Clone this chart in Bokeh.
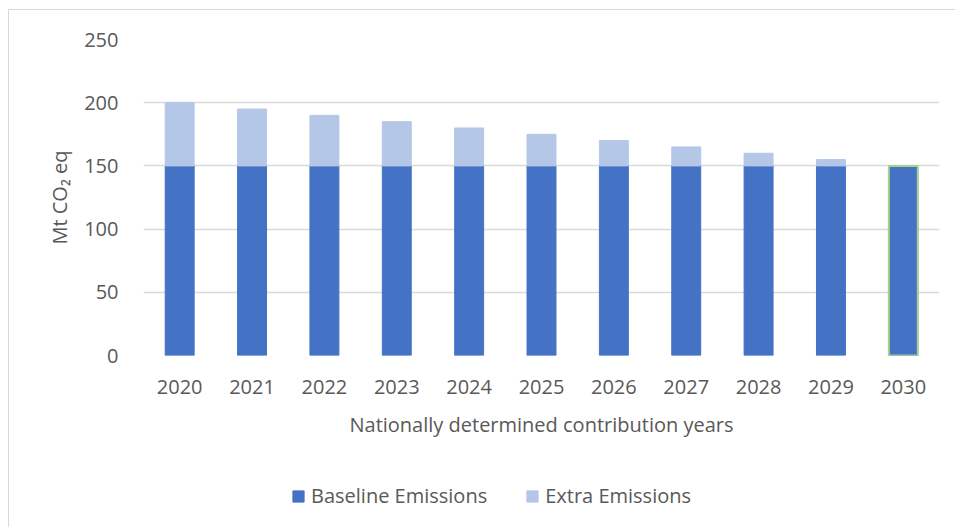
from bokeh.plotting import figure
from bokeh.layouts import column
from bokeh.models import Range1d, FixedTicker, Legend, LegendItem, ColumnDataSource
from bokeh.embed import file_html
from bokeh.resources import INLINE

years = ["2020", "2021", "2022", "2023", "2024", "2025", "2026", "2027", "2028", "2029", "2030"]
baseline = [150, 150, 150, 150, 150, 150, 150, 150, 150, 150, 150]
extra = [50, 45, 40, 35, 30, 25, 20, 15, 10, 5, 0]
y_ticks = [0, 50, 100, 150, 200, 250]
series_names = ["Baseline Emissions", "Extra Emissions"]

FONT = "Open Sans"
TXT = "#595959"
BASE_C = "#4472C4"
EXTRA_C = "#B4C7E7"
GRID_C = "#D9D9D9"

totals = [b + e for b, e in zip(baseline, extra)]
src = ColumnDataSource(dict(x=years, base=baseline, total=totals, zero=[0] * len(years)))

p = figure(x_range=years, y_range=Range1d(0, 250), width=946, height=435,
           output_backend="svg", toolbar_location=None,
           min_border_left=134, min_border_right=16, min_border_top=29, min_border_bottom=90)
p.outline_line_color = None
p.background_fill_color = "white"

p.vbar(x="x", bottom="zero", top="base", width=0.4, source=src,
       fill_color=BASE_C, line_color=BASE_C, line_width=1)
p.vbar(x="x", bottom="base", top="total", width=0.4, source=src,
       fill_color=EXTRA_C, line_color=EXTRA_C, line_width=1)
# highlighted final-year bar outline
p.vbar(x=[years[-1]], bottom=[0], top=[baseline[-1]], width=0.4,
       fill_color=None, line_color="#A9D18E", line_width=2)

p.xgrid.grid_line_color = None
p.ygrid.grid_line_color = GRID_C
p.ygrid.grid_line_width = 1.5
p.yaxis.ticker = FixedTicker(ticks=y_ticks)

for ax in (p.xaxis[0], p.yaxis[0]):
    ax.axis_line_color = None
    ax.major_tick_line_color = None
    ax.minor_tick_line_color = None
    ax.major_label_text_font = FONT
    ax.major_label_text_font_size = "20px"
    ax.major_label_text_color = TXT
    ax.axis_label_text_font = FONT
    ax.axis_label_text_font_size = "20px"
    ax.axis_label_text_color = TXT
    ax.axis_label_text_font_style = "normal"

p.xaxis.axis_label = "Nationally determined contribution years"
p.xaxis.major_label_standoff = 18
p.xaxis.axis_label_standoff = 14
p.yaxis.axis_label = "Mt CO\u2082 eq"
p.yaxis.major_label_standoff = 19
p.yaxis.axis_label_standoff = 8

# legend strip (its glyphs carry the same data, drawn outside the visible range)
lp = figure(width=946, height=82, x_range=years, y_range=Range1d(1000, 1001),
            output_backend="svg", toolbar_location=None,
            min_border=0, min_border_left=0, min_border_right=0, min_border_top=0, min_border_bottom=0)
lp.axis.visible = False
lp.grid.visible = False
lp.outline_line_color = None
d1 = lp.vbar(x="x", bottom="zero", top="base", width=0.4, source=src,
             fill_color=BASE_C, line_color=BASE_C)
d2 = lp.vbar(x="x", bottom="base", top="total", width=0.4, source=src,
             fill_color=EXTRA_C, line_color=EXTRA_C)
legend = Legend(items=[LegendItem(label=series_names[0], renderers=[d1]),
                       LegendItem(label=series_names[1], renderers=[d2])],
                orientation="horizontal", location=(148, 18),
                border_line_color=None, background_fill_alpha=0,
                glyph_width=14, glyph_height=14, label_standoff=6, spacing=38,
                label_text_font=FONT, label_text_font_size="20px", label_text_color=TXT,
                margin=0, padding=0)
lp.add_layout(legend, "center")

layout = column(p, lp, spacing=0)
layout.styles = {"margin-left": "8px", "margin-top": "9px",
                 "border-left": "1px solid #D9D9D9", "border-top": "1px solid #D9D9D9"}

open("out.html", "w").write(file_html(layout, INLINE))
